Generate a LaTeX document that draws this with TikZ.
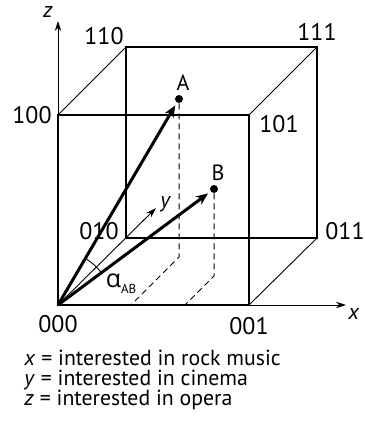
\documentclass[tikz,border=0pt]{standalone}
\usepackage{fontspec}
\setmainfont{PT Sans}
\newfontfamily\greekfont{Open Sans}
\usetikzlibrary{positioning,arrows.meta}
\tikzset{
    face edge/.style={line width=1.1pt},
    side edge/.style={line width=0.45pt},
    axis/.style={line width=0.45pt, -{Stealth[length=5pt, width=3.2pt]}},
    vector/.style={line width=1.5pt, -{Stealth[length=6pt, width=5pt]}, shorten >=1.5pt},
    drop/.style={line width=0.5pt, dash pattern=on 3pt off 2pt},
    corner label/.style={font=\fontsize{12}{12}\selectfont, inner sep=1pt},
    axis label/.style={font=\fontsize{11}{11}\selectfont\itshape, inner sep=1pt},
    point/.style={circle, fill=black, inner sep=0pt, minimum size=4pt},
    point label/.style={font=\fontsize{11}{11}\selectfont, inner sep=1pt}
}

\begin{document}
\begin{tikzpicture}[x=0.5pt, y=0.5pt]
    \useasboundingbox (0,0) rectangle (364,-431);

    % corners of the cube
    \coordinate (c000) at (58,-305);
    \coordinate (c001) at (249,-305);
    \coordinate (c100) at (58,-115);
    \coordinate (c101) at (249,-115);
    \coordinate (c010) at (126,-238);
    \coordinate (c011) at (317,-238);
    \coordinate (c110) at (126,-47);
    \coordinate (c111) at (317,-47);

    % axis ends
    \coordinate (xend) at (346,-305);
    \coordinate (yend) at (156,-208);
    \coordinate (zend) at (58,-21);

    % axes
    \draw[axis] (c001) -- (xend);
    \draw[axis] (c000) -- (yend);
    \draw[axis] (c000) -- (zend);
    \node[axis label, anchor=north west] (xlab) at (346,-306) {x};
    \node[axis label, anchor=south west] (ylab) at (158,-214) {y};
    \node[axis label, anchor=south east] (zlab) at (55,-20) {z};

    % faces and side edges
    \draw[face edge] (c000) -- (c001) -- (c101) -- (c100) -- cycle;
    \draw[face edge] (c010) -- (c011) -- (c111) -- (c110) -- cycle;
    \draw[side edge] (c100) -- (c110);
    \draw[side edge] (c101) -- (c111);
    \draw[side edge] (c001) -- (c011);

    % corner labels
    \node[corner label, above left=0pt and 0pt of c110] (l110) {110};
    \node[corner label, above=2pt of c111] (l111) {111};
    \node[corner label, left=2pt of c100] (l100) {100};
    \node[corner label, below right=-1pt and 4pt of c101] (l101) {101};
    \node[corner label, anchor=south east] (l010) at (121,-242) {010};
    \node[corner label, above right=-2pt and 3pt of c011] (l011) {011};
    \node[corner label, below=4pt of c000] (l000) {000};
    \node[corner label, below=5pt of c001] (l001) {001};

    % points A and B
    \node[point] (A) at (179,-99) {};
    \node[point] (B) at (214,-189) {};
    \node[point label, above=1pt of A, xshift=2pt] (Alab) {A};
    \node[point label, above=1pt of B, xshift=2pt] (Blab) {B};

    % projections
    \coordinate (Afoot) at (179,-257);
    \coordinate (Ax) at (131,-305);
    \coordinate (Bfoot) at (214,-276);
    \coordinate (Bx) at (185,-305);
    \draw[drop] (A) -- (Afoot) -- (Ax);
    \draw[drop] (B) -- (Bfoot) -- (Bx);

    % vectors
    \draw[vector] (c000) -- (A);
    \draw[vector] (c000) -- (B);

    % angle
    \draw[side edge] (c000) ++(37:54) arc[start angle=37, end angle=60, radius=54];
    \node[inner sep=0pt] (alpha) at (121,-284) {{\greekfont\fontsize{12.5}{12}\selectfont α}\raisebox{-0.6ex}{\fontsize{6.5}{7}\selectfont AB}};

    % legend
    \node[anchor=north west, align=left, inner sep=0pt, font=\fontsize{10.9}{10}\selectfont] (legend) at (24,-350)
        {\textit{x} = interested in rock music\\
         \textit{y} = interested in cinema\\
         \textit{z} = interested in opera};
\end{tikzpicture}
\end{document}
